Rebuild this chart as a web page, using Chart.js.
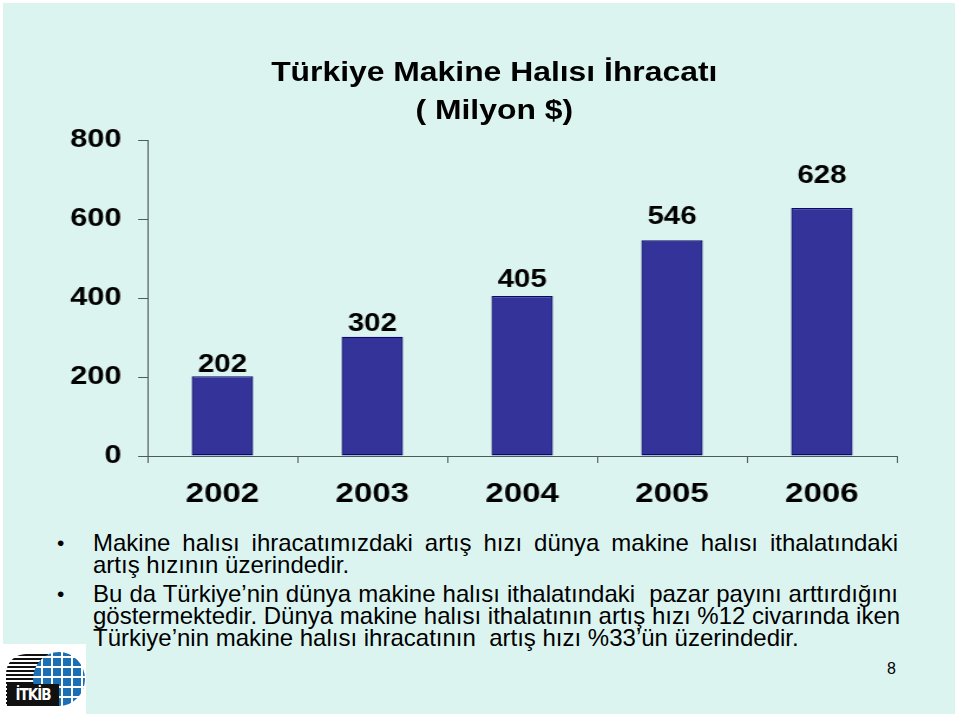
<!DOCTYPE html>
<html>
<head>
<meta charset="utf-8">
<script src="https://cdn.jsdelivr.net/npm/chart.js@4.4.1/dist/chart.umd.min.js"></script>
<style>
  html, body { margin: 0; padding: 0; background: #fff; }
  body { width: 960px; height: 720px; position: relative; overflow: hidden; font-family: "Liberation Sans", Arial, sans-serif; }
  #panel { position: absolute; left: 3px; top: 3px; width: 952px; height: 711px; background: #dcf4f0; }
  #chart-wrap { position: absolute; left: 0; top: 0; width: 814px; height: 520px; transform: scaleX(1.18); transform-origin: 0 0; }
  #title { position: absolute; left: 14px; top: 53px; width: 814px; transform: scaleX(1.18); transform-origin: 0 0;
           text-align: center; font-weight: bold; font-size: 27px; line-height: 38px; color: #000; }
  .para { position: absolute; left: 93px; width: 805px; font-size: 24px; line-height: 22px; color: #000; }
  .para .j { text-align: justify; text-align-last: justify; white-space: nowrap; }
  .bullet { position: absolute; left: 57px; font-size: 21px; line-height: 22px; }
  #pg { position: absolute; left: 887px; top: 660px; font-size: 16px; }
  #logo { position: absolute; left: 0; top: 644px; width: 86px; height: 76px; background: #fff; }
  #logo .stripes { position: absolute; left: 6px; top: 10px; width: 42px; height: 50px;
                   background: repeating-linear-gradient(#111 0 2px, #fff 2px 4px); border-radius: 20px 0 0 0; }
  #logo .globe { position: absolute; left: 33px; top: 8px; width: 52px; height: 54px; border-radius: 50%;
                 background:
                   repeating-linear-gradient(90deg, transparent 0 8px, #fff 8px 10px),
                   repeating-linear-gradient(0deg, transparent 0 8px, #fff 8px 10px),
                   #1b6fb5; }
  #logo .name { position: absolute; left: 7px; top: 40px; width: 52px; height: 22px; background: #111; color: #fff;
                font: bold 15px "DejaVu Sans Condensed", "Liberation Sans Narrow", sans-serif; line-height: 22px; text-align: center; letter-spacing: -1px; }
</style>
</head>
<body>
<div id="panel"></div>
<div id="logo"><div class="stripes"></div><div class="globe"></div><div class="name">İTKİB</div></div>

<div id="chart-wrap"><canvas id="c" width="814" height="520"></canvas></div>
<div id="title"><div>Türkiye Makine Halısı İhracatı</div><div>( Milyon $)</div></div>

<div class="bullet" style="top:532px">•</div>
<div class="para" style="top:532px">
  <div class="j">Makine halısı ihracatımızdaki artış hızı dünya makine halısı ithalatındaki</div>
  <div>artış hızının üzerindedir.</div>
</div>
<div class="bullet" style="top:583px">•</div>
<div class="para" style="top:583px">
  <div class="j">Bu da Türkiye’nin dünya makine halısı ithalatındaki&nbsp; pazar payını arttırdığını</div>
  <div class="j">göstermektedir. Dünya makine halısı ithalatının artış hızı %12 civarında iken</div>
  <div>Türkiye’nin makine halısı ihracatının&nbsp; artış hızı %33’ün üzerindedir.</div>
</div>
<div id="pg">8</div>

<script>
// Export of machine-made carpets, million $
const years = ["2002", "2003", "2004", "2005", "2006"];
const exports = [202, 302, 405, 546, 628];
const yTicks = [0, 200, 400, 600, 800];

// how far each value label sits above its bar (px), as on the slide
const LABEL_LIFT = [3, 5, 8, 15, 24];

const AXIS = "#4d5b5b";

const valueLabels = {
  id: "valueLabels",
  afterDatasetsDraw(chart) {
    const ctx = chart.ctx;
    const meta = chart.getDatasetMeta(0);
    ctx.save();
    ctx.font = "bold 25px 'Liberation Sans', Arial, sans-serif";
    ctx.fillStyle = "#000";
    ctx.textAlign = "center";
    ctx.textBaseline = "alphabetic";
    meta.data.forEach((bar, i) => {
      ctx.fillText(String(exports[i]), bar.x, bar.y - LABEL_LIFT[i] - 1);
    });
    ctx.restore();
  },
};

new Chart(document.getElementById("c"), {
  type: "bar",
  data: {
    labels: years,
    datasets: [{
      data: exports,
      backgroundColor: "#333399",
      borderColor: "#0a0a6e",
      borderWidth: 1.4,
      borderSkipped: false,
      barPercentage: 0.41,
      categoryPercentage: 1,
    }],
  },
  options: {
    responsive: false,
    animation: false,
    layout: { padding: { top: 140, right: 54, left: 0, bottom: 0 } },
    plugins: { legend: { display: false }, tooltip: { enabled: false }, title: { display: false } },
    scales: {
      x: {
        grid: { drawOnChartArea: false, drawTicks: true, tickLength: 7, color: AXIS, offset: true },
        border: { display: true, color: AXIS, width: 1 },
        ticks: { color: "#000", font: { family: "'Liberation Sans', Arial", size: 28, weight: "bold" }, padding: 14 },
        afterFit: (s) => { s.height = 64; },
      },
      y: {
        min: 0,
        max: 800,
        afterBuildTicks: (s) => { s.ticks = yTicks.map(v => ({ value: v })); },
        grid: { drawOnChartArea: false, drawTicks: true, tickLength: 8, color: AXIS },
        border: { display: true, color: AXIS, width: 1 },
        ticks: { color: "#000", font: { family: "'Liberation Sans', Arial", size: 26, weight: "bold" }, padding: 14 },
        afterFit: (s) => { s.width = 125; },
      },
    },
  },
  plugins: [valueLabels],
});
</script>
</body>
</html>
